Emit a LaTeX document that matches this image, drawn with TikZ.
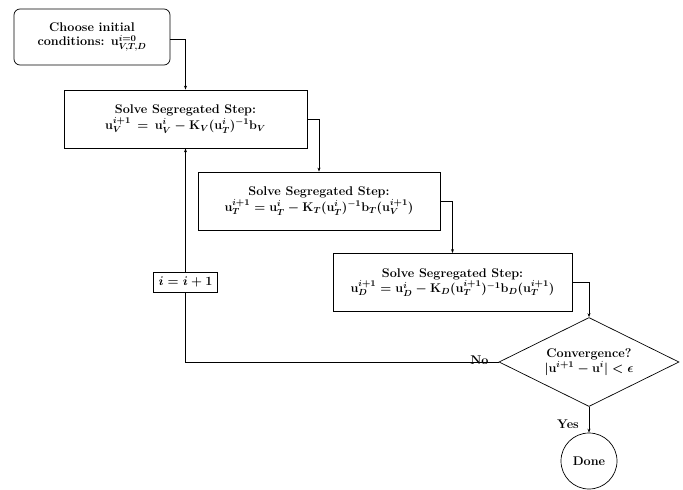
\RequirePackage{fix-cm}
\documentclass[tikz,border=0pt]{standalone}
\usepackage{fontspec}
\usetikzlibrary{shapes.geometric,arrows.meta}
\begin{document}
\begin{tikzpicture}[x=1pt,y=-1pt,
  every node/.style={font=\fontsize{12.6}{14.5}\selectfont\bfseries\boldmath, align=center, inner sep=0pt},
  stepbox/.style={draw, line width=0.8pt, minimum width=#1, minimum height=58pt},
  conn/.style={line width=0.7pt, -{Stealth[length=4pt,width=3pt]}},
  plain/.style={line width=0.7pt}]
\useasboundingbox (0,0) rectangle (683,490);
\node[draw, line width=0.7pt, rounded corners=6pt, minimum width=156pt, minimum height=56pt] (A) at (92,37)
  {Choose initial\\conditions: $\mathbf{u}_{V,T,D}^{i=0}$};
\node[stepbox=243pt] (B) at (185.5,119)
  {Solve Segregated Step:\\$\mathbf{u}_V^{i+1} \,=\, \mathbf{u}_V^{i} - \mathbf{K}_V(\mathbf{u}_T^{i})^{-1}\mathbf{b}_V$};
\node[stepbox=242pt] (C) at (319,201)
  {Solve Segregated Step:\\$\mathbf{u}_T^{i+1} = \mathbf{u}_T^{i} - \mathbf{K}_T(\mathbf{u}_T^{i})^{-1}\mathbf{b}_T(\mathbf{u}_V^{i+1})$};
\node[stepbox=239pt] (D) at (452.5,282.5)
  {Solve Segregated Step:\\$\mathbf{u}_D^{i+1} = \mathbf{u}_D^{i} - \mathbf{K}_D(\mathbf{u}_T^{i+1})^{-1}\mathbf{b}_D(\mathbf{u}_T^{i+1})$};
\node[draw, diamond, line width=0.7pt, aspect=2, minimum width=180pt, minimum height=89pt] (cv) at (589,362)
  {Convergence?\\$|\mathbf{u}^{i+1} - \mathbf{u}^{i}| < \epsilon$};
\node[draw, circle, line width=0.7pt, minimum size=56pt] (done) at (589,461) {Done};
\node[draw, line width=0.8pt, minimum width=64pt, minimum height=20pt] (inc) at (185.5,282) {$i = i+1$};
\draw[conn] ([yshift=-2pt]A.east) -| (B.north);
\draw[conn] (B.east) -| (C.north);
\draw[conn] (C.east) -| (D.north);
\draw[conn] (D.east) -| (cv.north);
\draw[plain] (cv.west) -| (inc.south);
\draw[conn] (inc.north) -- (B.south);
\draw[conn] (cv.south) -- (done.north);
\node[anchor=south east] (no) at ([xshift=-10pt,yshift=-3pt]cv.west) {No};
\node[anchor=east] (yes) at (579,424) {Yes};
\end{tikzpicture}
\end{document}
